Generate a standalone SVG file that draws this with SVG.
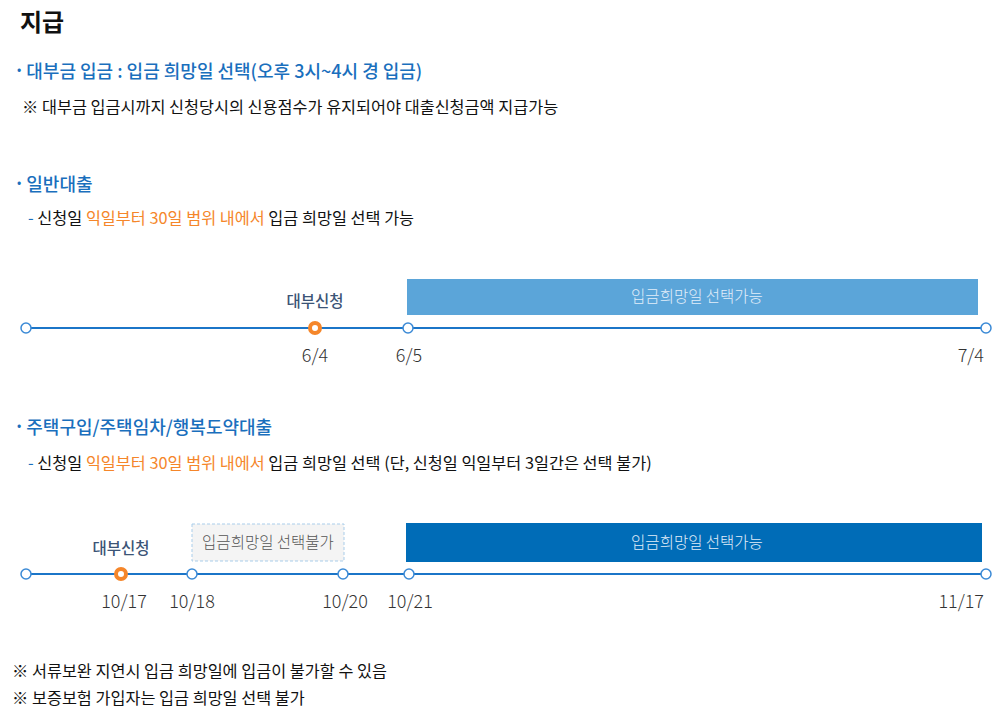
<svg xmlns="http://www.w3.org/2000/svg" width="996" height="721" viewBox="0 0 996 721">
<style>
text{font-family:"Noto Sans CJK KR","Noto Sans",sans-serif;}
.title{font-size:24px;font-weight:700;fill:#111;}
.h{font-size:18px;fill:#1a6fbd;font-weight:500;}
.b{font-size:16.3px;fill:#111;}
.o{fill:#f5862a;}
.dash{fill:#1a6fbd;}
.date{font-size:18px;fill:#333;font-weight:300;}
.tl{stroke:#1b75c8;stroke-width:2;fill:none;}
.node{fill:#fff;stroke:#3b8ad6;stroke-width:1.5;}
.onode{fill:#fff;stroke:#f5862a;stroke-width:4;}
.apply{font-size:15.5px;fill:#3b5476;font-weight:500;text-anchor:middle;}
.boxt{font-size:15.5px;fill:#e2eef9;font-weight:300;text-anchor:middle;}
</style>
<text class="title" x="20" y="31">지급</text>
<g id="intro">
<text class="h" x="17" y="78"><tspan class="dash" font-size="12" dy="-4">•</tspan><tspan dx="5" dy="4">대부금 입금 : 입금 희망일 선택(오후 3시~4시 경 입금)</tspan></text>
<text class="b" x="22" y="113">※ 대부금 입금시까지 신청당시의 신용점수가 유지되어야 대출신청금액 지급가능</text>
</g>
<g id="section1-header">
<text class="h" x="17" y="191"><tspan class="dash" font-size="12" dy="-4">•</tspan><tspan dx="5" dy="4">일반대출</tspan></text>
<text class="b" x="28" y="224"><tspan class="dash">-</tspan> 신청일 <tspan class="o">익일부터 30일 범위 내에서</tspan> 입금 희망일 선택 가능</text>
</g>
<g id="connectors">
<line class="tl" x1="26" y1="328" x2="986" y2="328"/>
<line class="tl" x1="26" y1="574" x2="986" y2="574"/>
</g>
<g id="timeline1">
<rect x="407" y="279" width="571" height="36" fill="#5ba5d9"/>
<text class="boxt" x="697" y="302">입금희망일 선택가능</text>
<text class="apply" x="315" y="307">대부신청</text>
<circle class="node" cx="26" cy="328" r="5"/>
<circle class="onode" cx="315" cy="328" r="5"/>
<circle class="node" cx="408" cy="328" r="5"/>
<circle class="node" cx="986" cy="328" r="5"/>
<text class="date" x="315" y="362" text-anchor="middle">6/4</text>
<text class="date" x="409" y="362" text-anchor="middle">6/5</text>
<text class="date" x="984" y="362" text-anchor="end">7/4</text>
</g>
<g id="section2-header">
<text class="h" x="17" y="434"><tspan class="dash" font-size="12" dy="-4">•</tspan><tspan dx="5" dy="4">주택구입/주택임차/행복도약대출</tspan></text>
<text class="b" x="28" y="469"><tspan class="dash">-</tspan> 신청일 <tspan class="o">익일부터 30일 범위 내에서</tspan> 입금 희망일 선택 (단, 신청일 익일부터 3일간은 선택 불가)</text>
</g>
<g id="timeline2">
<rect x="192" y="524" width="152" height="37" fill="#f4f4f4" stroke="#a9cdea" stroke-width="1" stroke-dasharray="3,2"/>
<text x="268" y="548" font-size="15.5" font-weight="300" fill="#555" text-anchor="middle">입금희망일 선택불가</text>
<rect x="406" y="523" width="576" height="39" fill="#006cb7"/>
<text class="boxt" x="697" y="548">입금희망일 선택가능</text>
<text class="apply" x="121" y="554">대부신청</text>
<circle class="node" cx="26" cy="574" r="5"/>
<circle class="onode" cx="121" cy="574" r="5"/>
<circle class="node" cx="192" cy="574" r="5"/>
<circle class="node" cx="343" cy="574" r="5"/>
<circle class="node" cx="409" cy="574" r="5"/>
<circle class="node" cx="986" cy="574" r="5"/>
<text class="date" x="124" y="608" text-anchor="middle">10/17</text>
<text class="date" x="192" y="608" text-anchor="middle">10/18</text>
<text class="date" x="345" y="608" text-anchor="middle">10/20</text>
<text class="date" x="410" y="608" text-anchor="middle">10/21</text>
<text class="date" x="984" y="608" text-anchor="end">11/17</text>
</g>
<g id="notes">
<text class="b" x="12" y="677">※ 서류보완 지연시 입금 희망일에 입금이 불가할 수 있음</text>
<text class="b" x="12" y="704">※ 보증보험 가입자는 입금 희망일 선택 불가</text>
</g>
</svg>
